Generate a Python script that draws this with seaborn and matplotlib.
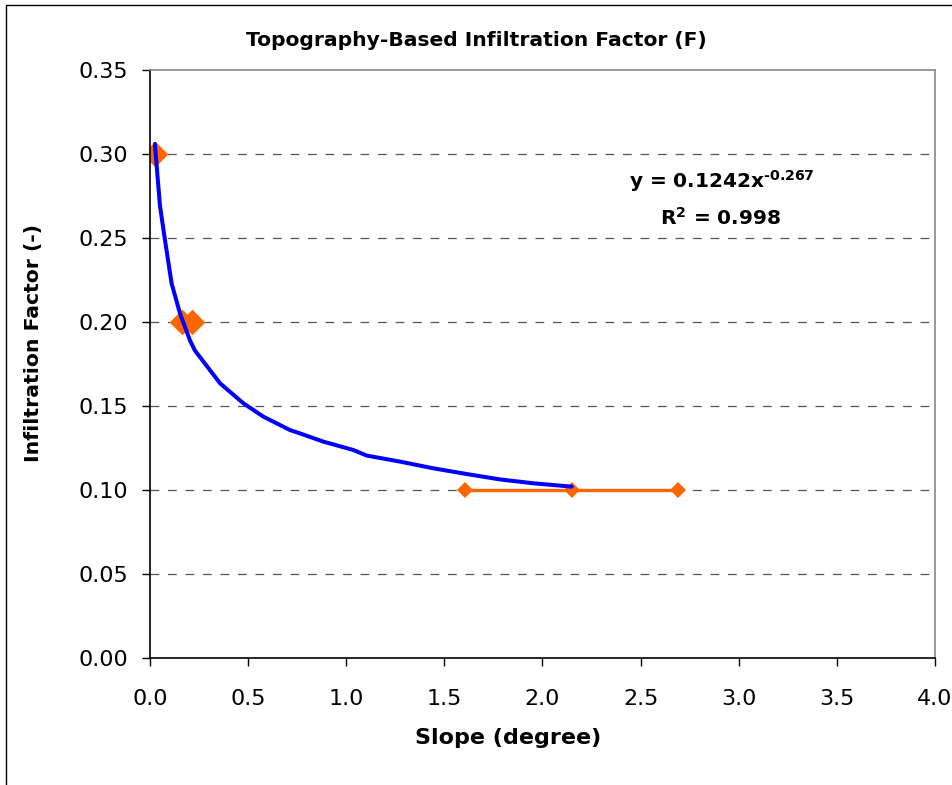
import numpy as np
import matplotlib
matplotlib.use("Agg")
import matplotlib.pyplot as plt
from matplotlib.patches import Rectangle
import seaborn as sns

# observed points (big diamonds)
obs_slope = [0.025, 0.161, 0.212]
obs_factor = [0.30, 0.20, 0.20]

# orange line series
line_slope = [1.605, 2.149, 2.689]
line_factor = [0.10, 0.10, 0.10]

# power trendline
trend_slope = [0.025, 0.037, 0.051, 0.076, 0.11, 0.153, 0.204, 0.229, 0.357, 0.476,
               0.577, 0.713, 0.764, 0.883, 1.036, 1.104, 1.274, 1.444, 1.614, 1.783,
               1.953, 2.149]
trend_factor = [0.306, 0.2885, 0.269, 0.249, 0.223, 0.205, 0.189, 0.183, 0.1635, 0.1516,
                0.1437, 0.1357, 0.1337, 0.1288, 0.1238, 0.1205, 0.1169, 0.1129, 0.1095, 0.1063,
                0.1040, 0.1020]

x_ticks = [0.0, 0.5, 1.0, 1.5, 2.0, 2.5, 3.0, 3.5, 4.0]
y_ticks = [0.00, 0.05, 0.10, 0.15, 0.20, 0.25, 0.30, 0.35]

sns.set_theme(style="white")
plt.rcParams['font.family'] = ['DejaVu Sans']
plt.rcParams['text.color'] = 'black'
plt.rcParams['axes.labelcolor'] = 'black'
plt.rcParams['xtick.color'] = 'black'
plt.rcParams['ytick.color'] = 'black'
plt.rcParams['mathtext.fontset'] = 'custom'
plt.rcParams['mathtext.rm'] = 'DejaVu Sans:bold'
plt.rcParams['mathtext.it'] = 'DejaVu Sans:bold'
plt.rcParams['mathtext.bf'] = 'DejaVu Sans:bold'

orange = "#FF6600"
blue = "#0000FF"

fig = plt.figure(figsize=(9.53, 7.85), dpi=100)
ax = fig.add_axes([150 / 953, 1 - 658 / 785, 785 / 953, 588 / 785])

sns.lineplot(x=line_slope, y=line_factor, ax=ax, color=orange, lw=2.4, marker="D",
             markersize=8, markeredgewidth=0, estimator=None, sort=False, zorder=3)
sns.lineplot(x=trend_slope, y=trend_factor, ax=ax, color=blue, lw=2.9,
             estimator=None, sort=False, zorder=4)
sns.scatterplot(x=obs_slope, y=obs_factor, ax=ax, color=orange, marker="D", s=170,
                linewidth=0, zorder=2)

ax.set_xlim(0, 4.0)
ax.set_ylim(0, 0.35)
ax.set_xticks(x_ticks)
ax.set_yticks(y_ticks)
ax.set_xticklabels([f"{v:.1f}" for v in x_ticks])
ax.set_yticklabels([f"{v:.2f}" for v in y_ticks])
ax.tick_params(axis="x", direction="out", length=6, width=1, color="black",
               labelsize=16, pad=16, bottom=True)
ax.tick_params(axis="y", direction="out", length=6, width=1, color="black",
               labelsize=16, pad=10, left=True)

for yv in y_ticks[1:-1]:
    ax.axhline(yv, color="#555555", lw=0.9, ls=(0, (7, 7)), zorder=1)

ax.spines["left"].set_color("black")
ax.spines["bottom"].set_color("black")
ax.spines["top"].set_color("#888888")
ax.spines["right"].set_color("#888888")
for s in ax.spines.values():
    s.set_linewidth(1.2)

ax.set_xlabel("Slope (degree)", fontsize=16, fontweight="bold")
ax.xaxis.set_label_coords((508 - 150) / 785, (658 - 728) / 588)
ax.set_ylabel("Infiltration Factor (-)", fontsize=14.7, fontweight="bold")
ax.yaxis.set_label_coords((43 - 150) / 785, (658 - 343) / 588)
fig.text(0.5, 1 - 40 / 785, "Topography-Based Infiltration Factor (F)", fontsize=14.6,
         fontweight="bold", ha="center", va="center")

ax.text((722 - 150) / 785, (658 - 181) / 588, r"y = 0.1242x$^{\text{-0.267}}$",
        transform=ax.transAxes, ha="center", va="center", fontsize=14.5, fontweight="bold")
ax.text((721 - 150) / 785, (658 - 218) / 588, r"R$^{2}$ = 0.998",
        transform=ax.transAxes, ha="center", va="center", fontsize=14.5, fontweight="bold")

# outer chart border (cut off at right and bottom in the original)
fig.patches.append(Rectangle((6 / 953, -0.05), 1.2, 0.05 + 1 - 5 / 785,
                             transform=fig.transFigure, fill=False,
                             edgecolor="black", lw=1.0))

fig.savefig("out.png", dpi=100)
